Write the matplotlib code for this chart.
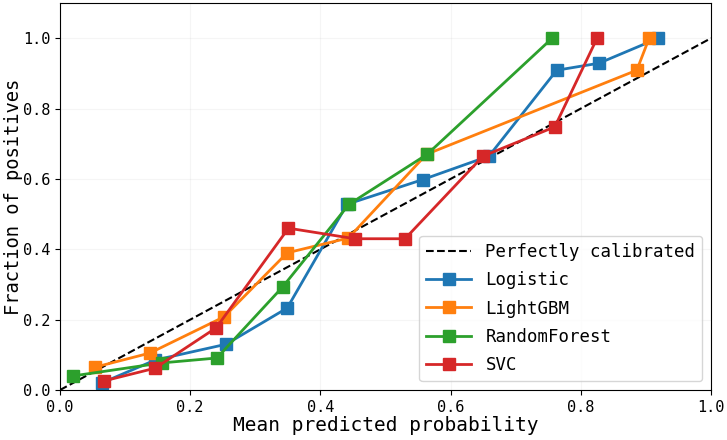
import matplotlib
matplotlib.use("Agg")
import matplotlib.pyplot as plt

# calibration curves
logistic_x = [0.064, 0.146, 0.255, 0.349, 0.441, 0.557, 0.659, 0.763, 0.828, 0.919]
logistic_y = [0.020, 0.085, 0.130, 0.233, 0.528, 0.598, 0.665, 0.909, 0.929, 1.000]

lgbm_x = [0.054, 0.138, 0.252, 0.349, 0.443, 0.563, 0.886, 0.905]
lgbm_y = [0.065, 0.105, 0.208, 0.390, 0.432, 0.670, 0.909, 1.000]

rf_x = [0.020, 0.156, 0.241, 0.342, 0.444, 0.564, 0.756]
rf_y = [0.040, 0.077, 0.091, 0.293, 0.528, 0.670, 1.000]

svc_x = [0.068, 0.146, 0.240, 0.351, 0.453, 0.530, 0.650, 0.760, 0.825]
svc_y = [0.026, 0.062, 0.177, 0.460, 0.430, 0.430, 0.665, 0.748, 1.000]

plt.rcParams['font.family'] = ['DejaVu Sans Mono']

fig = plt.figure(figsize=(7.27, 4.40), dpi=100)
ax = fig.add_axes([0.0825, 0.1136, 0.8955, 0.8795])

ax.plot([0, 1], [0, 1], 'k--', lw=1.5, label='Perfectly calibrated')
ax.plot(logistic_x, logistic_y, 's-', color='#1f77b4', lw=2, ms=8, label='Logistic')
ax.plot(lgbm_x, lgbm_y, 's-', color='#ff7f0e', lw=2, ms=8, label='LightGBM')
ax.plot(rf_x, rf_y, 's-', color='#2ca02c', lw=2, ms=8, label='RandomForest')
ax.plot(svc_x, svc_y, 's-', color='#d62728', lw=2, ms=8, label='SVC')

ax.set_xlim(0, 1)
ax.set_ylim(0, 1.1)
ax.set_xticks([0, 0.2, 0.4, 0.6, 0.8, 1.0])
ax.set_yticks([0, 0.2, 0.4, 0.6, 0.8, 1.0])
ax.tick_params(labelsize=11)
ax.grid(True, alpha=0.12)
ax.set_xlabel('Mean predicted probability', fontsize=14, labelpad=1)
ax.set_ylabel('Fraction of positives', fontsize=13.5)
ax.yaxis.set_label_coords(-0.057, 0.5)
ax.legend(loc='lower right', fontsize=12.5, handlelength=2.6, labelspacing=0.6)

fig.savefig('out.png', dpi=100)
